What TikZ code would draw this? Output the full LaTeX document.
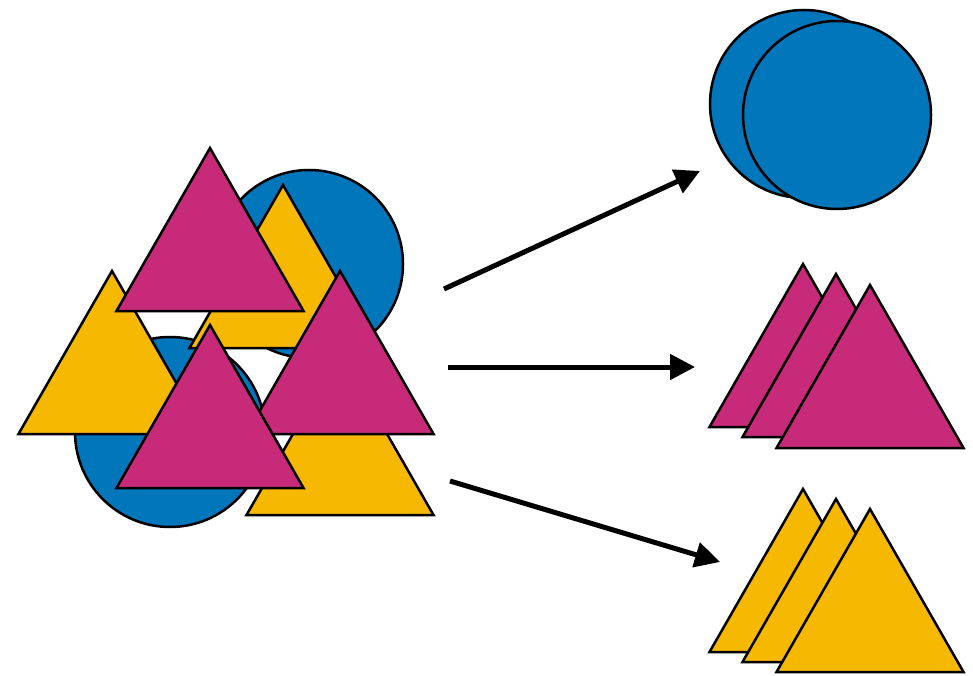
\documentclass[tikz,border=0pt]{standalone}
\usetikzlibrary{arrows.meta}
\definecolor{cblue}{RGB}{1,118,186}
\definecolor{cmag}{RGB}{200,42,122}
\definecolor{cyel}{RGB}{246,185,0}
\begin{document}
\begin{tikzpicture}[x=1pt,y=-1pt,
  shp/.style={draw=black,line width=2.5pt,line join=miter},
  tri/.pic={\path[pic actions] (-93.5,163) -- (0,0) -- (93.5,163) -- cycle;},
  arr/.style={line width=5pt,-{Triangle[length=25pt,width=25pt]}}]
\useasboundingbox[fill=white] (0,0) rectangle (973,676);
% left cluster: circles
\filldraw[shp,fill=cblue] (309,264) circle[radius=94];
\filldraw[shp,fill=cblue] (170,432) circle[radius=95];
% yellows
\pic[shp,fill=cyel] at (283,185) {tri};
\pic[shp,fill=cyel] at (112,271) {tri};
\pic[shp,fill=cyel] at (340,352) {tri};
% magentas
\pic[shp,fill=cmag] at (210,148) {tri};
\pic[shp,fill=cmag] at (340,271) {tri};
\pic[shp,fill=cmag] at (210,325) {tri};
% right: circles
\filldraw[shp,fill=cblue] (804,104) circle[radius=94];
\filldraw[shp,fill=cblue] (837,115) circle[radius=94];
% right: magenta stack
\pic[shp,fill=cmag] at (803,264) {tri};
\pic[shp,fill=cmag] at (836,274) {tri};
\pic[shp,fill=cmag] at (870,285) {tri};
% right: yellow stack
\pic[shp,fill=cyel] at (803,489) {tri};
\pic[shp,fill=cyel] at (836,499) {tri};
\pic[shp,fill=cyel] at (870,509) {tri};
% arrows
\coordinate (a1s) at (444,289);
\coordinate (a1e) at (700,171);
\coordinate (a2s) at (448,367);
\coordinate (a2e) at (695,367);
\coordinate (a3s) at (450,481);
\coordinate (a3e) at (720,562);
\draw[arr] (a1s) -- (a1e);
\draw[arr] (a2s) -- (a2e);
\draw[arr] (a3s) -- (a3e);
\end{tikzpicture}
\end{document}
